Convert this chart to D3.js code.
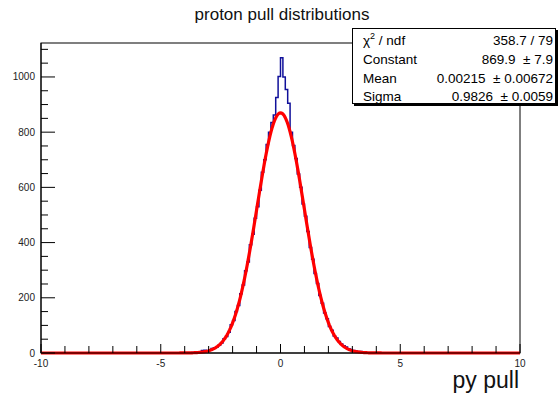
<!DOCTYPE html>
<html>
<head>
<meta charset="utf-8">
<script src="https://cdn.jsdelivr.net/npm/d3@7"></script>
<style>
  body { margin: 0; background: #fff; }
  svg { display: block; font-family: "Liberation Sans", Arial, Helvetica, sans-serif; }
  .pre { white-space: pre; }
</style>
</head>
<body>
<svg id="chart" width="559" height="393"></svg>
<script>
// histogram definition: 200 bins on [-10, 10]
var xMin = -10, xMax = 10, binWidth = 0.1
// filled bins start at -4.1 (lower edge)
var firstFilledEdge = -4.1
var counts = [
  0, 1, 0, 1, 2, 1, 3, 4, 9, 10,
  8, 12, 16, 19, 22, 28, 36, 52, 60, 75,
  102, 118, 150, 172, 215, 246, 298, 330, 392, 430,
  488, 530, 590, 655, 700, 755, 800, 835, 862, 926,
  1002,
  1070, 1000, 955, 905, 800, 752, 705, 648, 600, 540,
  495, 440, 382, 340, 288, 252, 208, 180, 145, 124,
  96, 82, 62, 54, 42, 33, 26, 22, 15, 13,
  9, 7, 4, 5, 2, 2, 1, 0, 1, 0,
  1
]

// gaussian fit results (stats box)
var statLabels = ['Constant', 'Mean', 'Sigma']
var statValues = ['869.9  \u00b1 7.9', '0.00215  \u00b1 0.00672', '0.9826  \u00b1 0.0059']
var fitConstant = 869.9, fitMean = 0.00215, fitSigma = 0.9826
var chi2Text = '358.7 / 79'

var xTicks = [-10, -5, 0, 5, 10]
var yTicks = [0, 200, 400, 600, 800, 1000]
var yMax = 1123

var svg = d3.select('#chart')

var x = d3.scaleLinear().domain([xMin, xMax]).range([41, 520])
var y = d3.scaleLinear().domain([0, yMax]).range([353, 43])

// build full bin list
var nBins = Math.round((xMax - xMin) / binWidth)
var startIdx = Math.round((firstFilledEdge - xMin) / binWidth)
var bins = d3.range(nBins).map(i => {
    var c = (i >= startIdx && i < startIdx + counts.length) ? counts[i - startIdx] : 0
    return { lo: xMin + i * binWidth, value: c }
})
var stepPts = bins.map(b => [b.lo, b.value])
stepPts.push([xMax, bins[bins.length - 1].value])

// frame
svg.append('rect')
    .attr('x', 41).attr('y', 43)
    .attr('width', 520 - 41).attr('height', 353 - 43)
    .attr('fill', 'none').attr('stroke', '#000').attr('stroke-width', 1)

// histogram outline
svg.append('path')
    .datum(stepPts)
    .attr('fill', 'none')
    .attr('stroke', '#10109a')
    .attr('stroke-width', 1.5)
    .attr('d', d3.line().x(d => x(d[0])).y(d => y(d[1])).curve(d3.curveStepAfter))

// fit function
var fitPts = d3.range(xMin, xMax + 0.0001, 0.04).map(v =>
    [v, fitConstant * Math.exp(-0.5 * Math.pow((v - fitMean) / fitSigma, 2))])
svg.append('path')
    .datum(fitPts)
    .attr('fill', 'none')
    .attr('stroke', '#ff0000')
    .attr('stroke-width', 3.2)
    .attr('d', d3.line().x(d => x(d[0])).y(d => y(d[1])))

// axes (ROOT style ticks pointing inward)
var xAxis = svg.append('g')
xAxis.append('line').attr('x1', 41).attr('x2', 520).attr('y1', 353).attr('y2', 353).attr('stroke', '#000')
xAxis.selectAll('.xminor')
    .data(d3.range(xMin, xMax + 0.001, 1))
    .join('line')
    .attr('x1', d => x(d)).attr('x2', d => x(d))
    .attr('y1', 353).attr('y2', d => xTicks.includes(d) ? 344 : 346)
    .attr('stroke', '#000')
xAxis.selectAll('text')
    .data(xTicks)
    .join('text')
    .attr('x', d => x(d))
    .attr('y', 367)
    .attr('text-anchor', 'middle')
    .attr('font-size', 10)
    .attr('fill', '#222')
    .text(d => d)

var yAxis = svg.append('g')
yAxis.append('line').attr('x1', 41).attr('x2', 41).attr('y1', 43).attr('y2', 353).attr('stroke', '#000')
yAxis.selectAll('line.tk')
    .data(d3.range(0, yMax, 50))
    .join('line')
    .attr('class', 'tk')
    .attr('x1', 41).attr('x2', d => d % 200 === 0 ? 55 : 48)
    .attr('y1', d => y(d)).attr('y2', d => y(d))
    .attr('stroke', '#000')
yAxis.selectAll('text')
    .data(yTicks)
    .join('text')
    .attr('x', 35)
    .attr('y', d => y(d))
    .attr('dy', '0.35em')
    .attr('text-anchor', 'end')
    .attr('font-size', 10)
    .attr('fill', '#222')
    .text(d => d)

// titles
svg.append('text')
    .attr('x', 282).attr('y', 20)
    .attr('text-anchor', 'middle')
    .attr('font-size', 17)
    .attr('fill', '#111')
    .text('proton pull distributions')

svg.append('text')
    .attr('x', 519).attr('y', 388)
    .attr('text-anchor', 'end')
    .attr('font-size', 23)
    .attr('fill', '#111')
    .text('py pull')

// stats box
var box = svg.append('g')
box.append('rect').attr('x', 354).attr('y', 30).attr('width', 204).attr('height', 76).attr('fill', '#000')
box.append('rect').attr('x', 352.5).attr('y', 28.5).attr('width', 203).attr('height', 75)
    .attr('fill', '#fff').attr('stroke', '#000').attr('stroke-width', 1)

var rowsY = [40, 59, 78, 96]
var chiLabel = box.append('text').attr('x', 363).attr('y', rowsY[0]).attr('dy', '0.35em').attr('font-size', 13.5)
chiLabel.append('tspan').text('\u03c7')
chiLabel.append('tspan').attr('font-size', 9).attr('dy', '-0.6em').text('2')
chiLabel.append('tspan').attr('dy', '0.45em').attr('class', 'pre').text(' / ndf')
box.append('text').attr('x', 553).attr('y', rowsY[0]).attr('dy', '0.35em')
    .attr('text-anchor', 'end').attr('font-size', 13.5).text(chi2Text)

box.selectAll('text.lbl')
    .data(statLabels)
    .join('text')
    .attr('class', 'lbl')
    .attr('x', 363)
    .attr('y', (d, i) => rowsY[i + 1])
    .attr('dy', '0.35em')
    .attr('font-size', 13.5)
    .text(d => d)
box.selectAll('text.val')
    .data(statValues)
    .join('text')
    .attr('class', 'val pre')
    .attr('x', 553)
    .attr('y', (d, i) => rowsY[i + 1])
    .attr('dy', '0.35em')
    .attr('text-anchor', 'end')
    .attr('font-size', 13.5)
    .text(d => d)
</script>
</body>
</html>
